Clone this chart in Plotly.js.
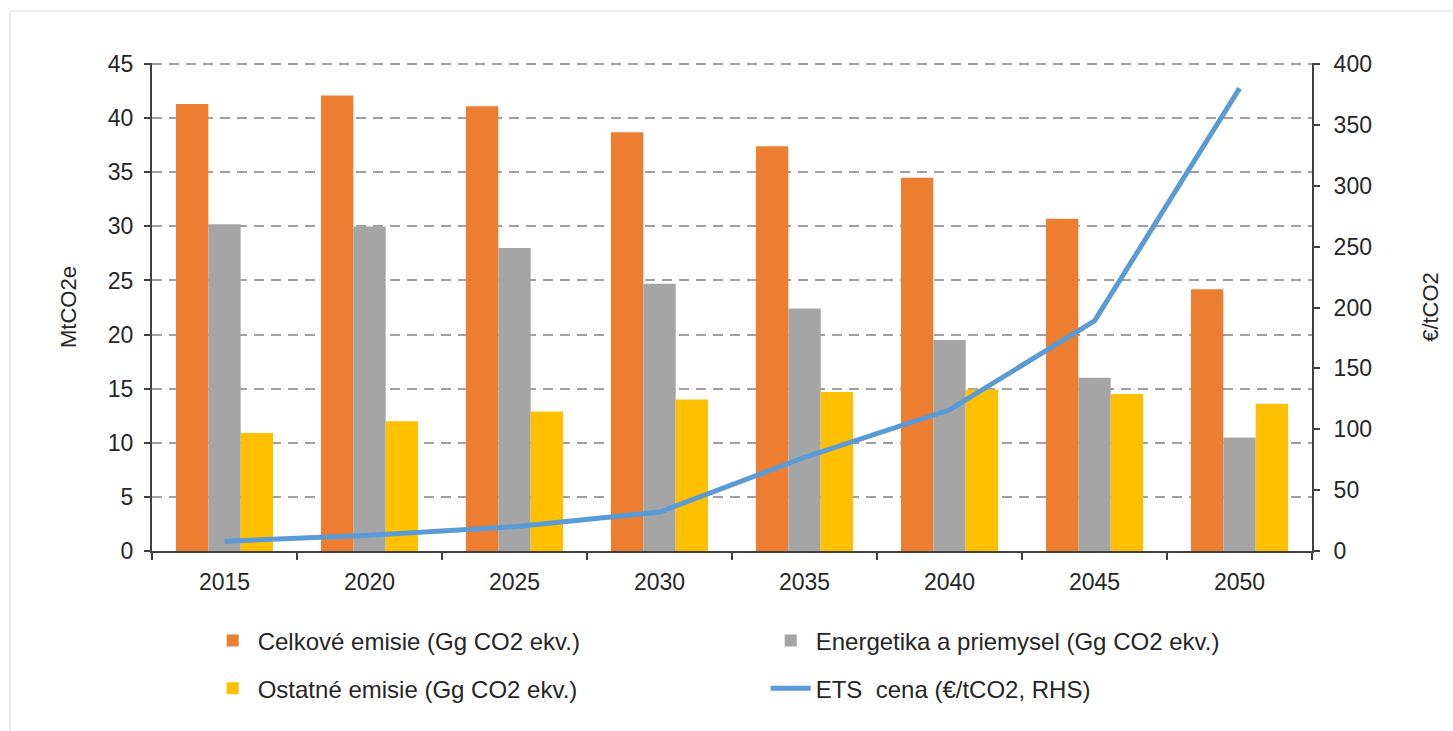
<!DOCTYPE html>
<html>
<head>
<meta charset="utf-8">
<script src="https://cdn.plot.ly/plotly-3.0.1.min.js"></script>
<style>
html,body{margin:0;padding:0;background:#fff;}
#wrap{position:relative;width:1453px;height:731px;}
#chart{width:1453px;height:731px;}
#frame{position:absolute;left:9px;top:10px;right:0;bottom:0;border-left:2px solid #ececec;border-top:2px solid #ececec;pointer-events:none;}
</style>
</head>
<body>
<div id="wrap"><div id="chart"></div><div id="frame"></div></div>
<script>
const years = ['2015','2020','2025','2030','2035','2040','2045','2050'];
const celkove = [41.3, 42.1, 41.1, 38.7, 37.4, 34.5, 30.7, 24.2];
const energetika = [30.2, 30.0, 28.0, 24.7, 22.4, 19.5, 16.0, 10.5];
const ostatne = [10.9, 12.0, 12.9, 14.0, 14.7, 14.9, 14.5, 13.6];
const etsCena = [8, 13, 20, 32, 77, 116, 189, 380];

const fam = 'Liberation Sans, Arial, sans-serif';
const tickFont = {family: fam, size: 23, color: '#262626'};
const legFont = {family: fam, size: 24, color: '#262626'};
const titleFont = {family: fam, size: 22, color: '#262626'};

const data = [
  {type: 'bar', name: 'Celkové emisie (Gg CO2 ekv.)', x: years, y: celkove, marker: {color: '#ED7D31'}, legend: 'legend'},
  {type: 'bar', name: 'Energetika a priemysel (Gg CO2 ekv.)', x: years, y: energetika, marker: {color: '#A5A5A5'}, legend: 'legend'},
  {type: 'bar', name: 'Ostatné emisie (Gg CO2 ekv.)', x: years, y: ostatne, marker: {color: '#FFC000'}, legend: 'legend2'},
  {type: 'scatter', mode: 'lines', name: 'ETS  cena (€/tCO2, RHS)', x: years, y: etsCena, yaxis: 'y2', line: {color: '#5B9BD5', width: 5}, legend: 'legend2'}
];

const layout = {
  width: 1453, height: 731,
  margin: {l: 152, r: 141, t: 63, b: 180},
  paper_bgcolor: '#fff', plot_bgcolor: '#fff',
  font: tickFont,
  barmode: 'group', bargap: 0.33, bargroupgap: 0,
  showlegend: true,
  xaxis: {
    type: 'category', showline: true, linecolor: '#404040', linewidth: 2,
    ticks: 'outside', tickson: 'boundaries', ticklen: 7, tickcolor: '#404040', tickwidth: 1.5,
    tickfont: tickFont, showgrid: false, zeroline: false, ticklabelstandoff: 9
  },
  yaxis: {
    range: [0, 45.1], tickvals: [0,5,10,15,20,25,30,35,40,45], showline: true, linecolor: '#404040', linewidth: 2,
    ticks: 'outside', ticklen: 6, tickcolor: '#404040', tickwidth: 1.5, tickfont: tickFont, ticklabelstandoff: 6,
    showgrid: true, gridcolor: '#a0a0a0', griddash: '10px,7px', gridwidth: 2, zeroline: false,
    title: {text: 'MtCO2e', font: titleFont, standoff: 25}
  },
  yaxis2: {
    range: [0, 400.9], tickvals: [0,50,100,150,200,250,300,350,400], overlaying: 'y', side: 'right', showline: true, linecolor: '#404040', linewidth: 2,
    ticks: 'outside', ticklen: 6, tickcolor: '#404040', tickwidth: 1.5, tickfont: tickFont, ticklabelstandoff: 9,
    showgrid: false, zeroline: false,
    title: {text: '€/tCO2', font: titleFont, standoff: 52}
  },
  legend: {
    orientation: 'h', x: 0.048, xanchor: 'left', y: -0.138, yanchor: 'top',
    entrywidth: 503, entrywidthmode: 'pixels', font: legFont, traceorder: 'normal', itemwidth: 40
  },
  legend2: {
    orientation: 'h', x: 0.048, xanchor: 'left', y: -0.236, yanchor: 'top',
    entrywidth: 503, entrywidthmode: 'pixels', font: legFont, traceorder: 'normal', itemwidth: 40
  }
};

Plotly.newPlot('chart', data, layout, {displayModeBar: false});
</script>
</body>
</html>
